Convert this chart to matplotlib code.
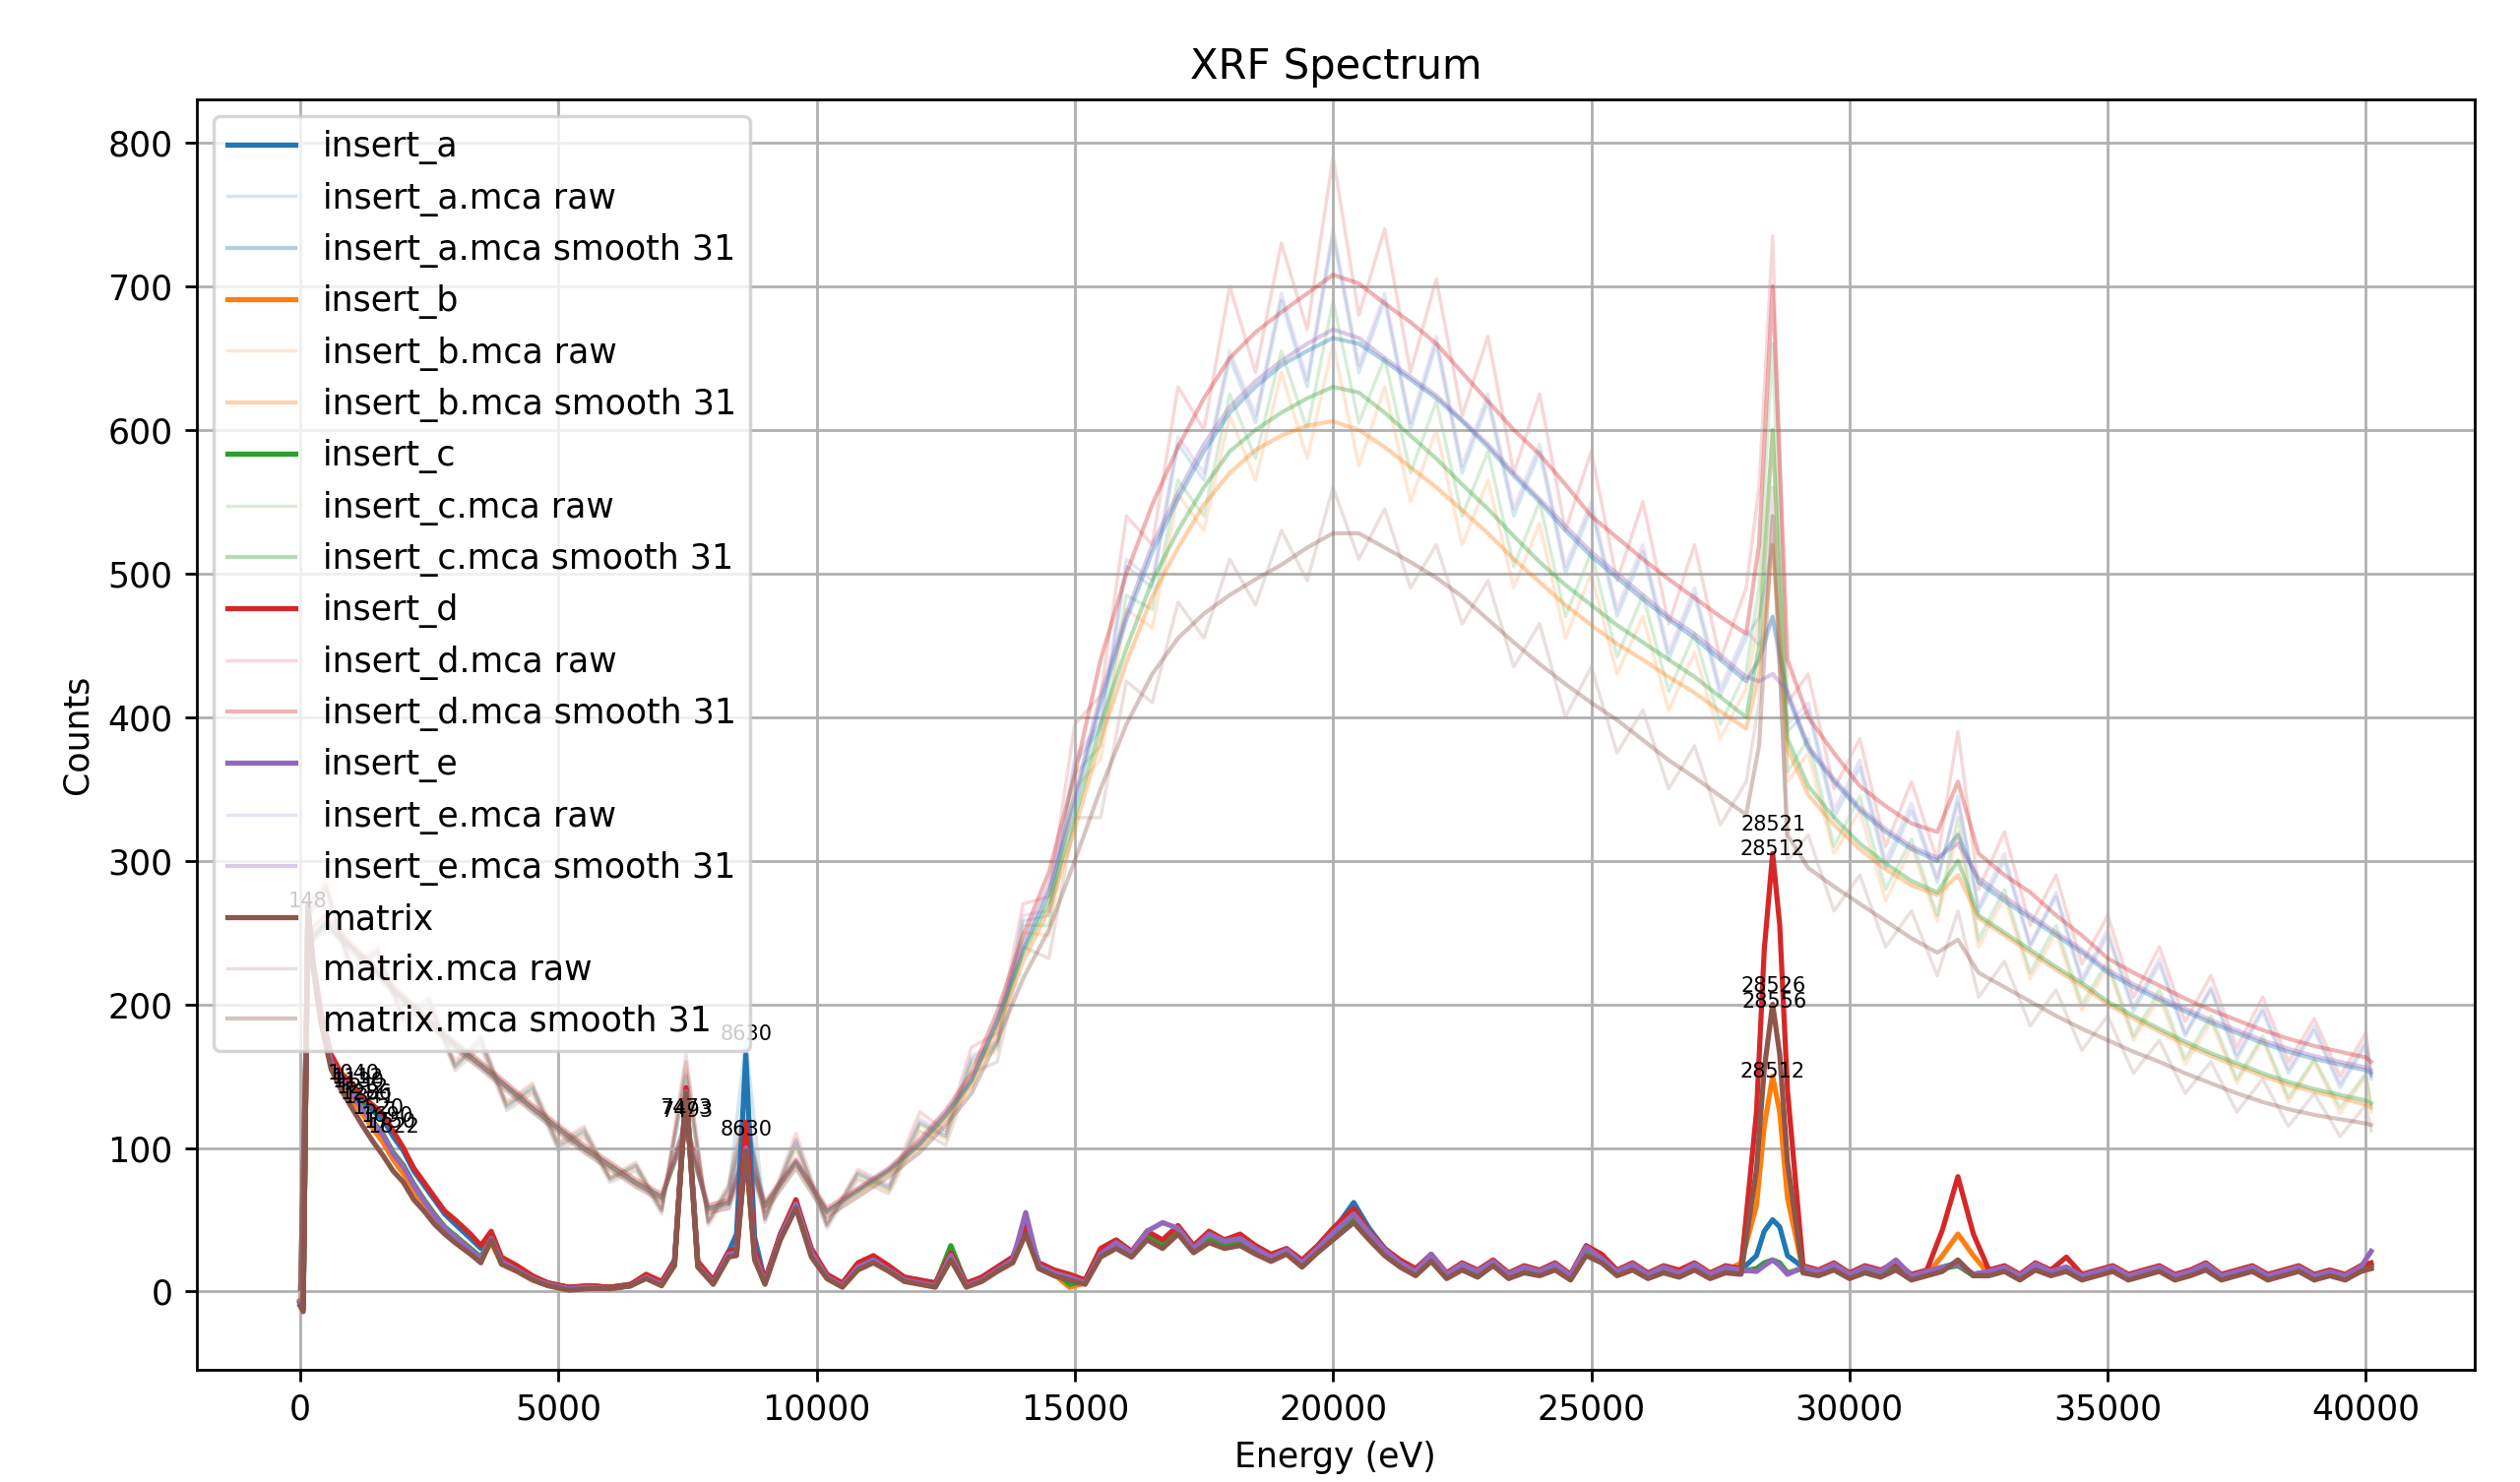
import matplotlib
matplotlib.use("Agg")
import matplotlib.pyplot as plt

# ---------------------- DATA ----------------------
samples = ["insert_a", "insert_b", "insert_c", "insert_d", "insert_e", "matrix"]
colors = ["#1f77b4", "#ff7f0e", "#2ca02c", "#d62728", "#9467bd", "#8c564b"]

# energy grid of the peak-fitted (main) traces, eV
energy_main = [
    0, 60, 150, 250, 400, 600, 800, 1000, 1200, 1400,
    1600, 1800, 2000, 2200, 2400, 2600, 2800, 3000, 3300, 3500,
    3700, 3900, 4200, 4500, 4800, 5200, 5600, 6000, 6400, 6700,
    7000, 7250, 7473, 7700, 8000, 8300, 8450, 8630, 8800, 9000,
    9300, 9600, 9900, 10200, 10500, 10800, 11100, 11400, 11700, 12000,
    12300, 12600, 12900, 13200, 13500, 13800, 14050, 14300, 14600, 14900,
    15200, 15500, 15800, 16100, 16400, 16700, 17000, 17300, 17600, 17900,
    18200, 18500, 18800, 19100, 19400, 19700, 20000, 20400, 20700, 21000,
    21300, 21600, 21900, 22200, 22500, 22800, 23100, 23400, 23700, 24000,
    24300, 24600, 24900, 25200, 25500, 25800, 26100, 26400, 26700, 27000,
    27300, 27600, 27900, 28200, 28350, 28512, 28650, 28800, 29100, 29400,
    29700, 30000, 30300, 30600, 30900, 31200, 31500, 31800, 32100, 32400,
    32700, 33000, 33300, 33600, 33900, 34200, 34500, 34800, 35100, 35400,
    35700, 36000, 36300, 36600, 36900, 37200, 37500, 37800, 38100, 38400,
    38700, 39000, 39300, 39600, 39900, 40100,
]

insert_a = [
    -8, -12, 265, 228, 192, 162, 150, 142, 133, 126,
    120, 108, 98, 84, 74, 64, 54, 47, 37, 30,
    40, 22, 16, 10, 6, 3, 4, 3, 5, 11,
    6, 22, 140, 20, 8, 28, 40, 165, 38, 7,
    40, 62, 28, 12, 5, 19, 24, 17, 10, 8,
    6, 26, 5, 10, 17, 24, 48, 20, 15, 11,
    8, 28, 34, 27, 40, 34, 44, 30, 38, 34,
    36, 30, 24, 29, 20, 31, 42, 62, 44, 30,
    20, 15, 24, 12, 19, 14, 21, 12, 17, 14,
    19, 11, 29, 24, 14, 19, 12, 17, 14, 19,
    12, 17, 15, 25, 42, 50, 45, 25, 17, 14,
    19, 12, 17, 14, 19, 11, 14, 17, 20, 12,
    14, 17, 11, 19, 14, 17, 11, 14, 17, 11,
    14, 17, 11, 14, 19, 11, 14, 17, 11, 14,
    17, 11, 14, 11, 17, 19,
]
insert_b = [
    -6, -10, 262, 226, 190, 158, 144, 134, 124, 114,
    104, 92, 82, 70, 60, 50, 42, 36, 28, 22,
    34, 20, 15, 9, 5, 2, 3, 2, 4, 10,
    5, 19, 138, 18, 6, 26, 26, 100, 24, 6,
    38, 60, 26, 10, 4, 17, 22, 15, 8, 6,
    4, 24, 4, 8, 15, 22, 42, 17, 12, 3,
    6, 26, 32, 25, 38, 32, 42, 28, 36, 32,
    34, 28, 22, 27, 18, 28, 38, 50, 38, 26,
    18, 12, 22, 10, 16, 11, 19, 10, 14, 12,
    16, 9, 26, 21, 12, 16, 10, 14, 11, 16,
    10, 14, 20, 60, 115, 150, 125, 65, 15, 12,
    16, 10, 14, 11, 16, 9, 12, 25, 40, 25,
    12, 15, 9, 16, 12, 15, 9, 12, 15, 9,
    12, 15, 9, 12, 16, 9, 12, 15, 9, 12,
    15, 9, 12, 9, 14, 16,
]
insert_c = [
    -7, -11, 266, 229, 194, 163, 149, 139, 128, 119,
    110, 97, 88, 75, 64, 54, 45, 39, 30, 24,
    38, 22, 16, 10, 6, 2, 4, 3, 4, 11,
    6, 20, 140, 19, 7, 27, 28, 102, 26, 7,
    39, 62, 28, 11, 5, 18, 23, 16, 9, 7,
    5, 32, 5, 9, 16, 23, 45, 19, 14, 5,
    7, 27, 33, 26, 39, 33, 43, 29, 37, 33,
    35, 29, 23, 28, 19, 29, 40, 52, 40, 28,
    19, 13, 25, 11, 18, 13, 20, 11, 16, 13,
    18, 10, 30, 22, 13, 18, 11, 16, 12, 18,
    11, 16, 14, 16, 20, 22, 20, 13, 16, 13,
    18, 11, 16, 13, 18, 10, 13, 16, 18, 11,
    13, 16, 10, 18, 13, 16, 10, 13, 16, 10,
    13, 16, 10, 13, 18, 10, 13, 16, 10, 13,
    16, 10, 13, 10, 16, 18,
]
insert_d = [
    -8, -12, 268, 230, 195, 165, 152, 145, 136, 130,
    124, 112, 100, 86, 76, 66, 56, 50, 40, 32,
    42, 24, 18, 11, 6, 3, 4, 3, 5, 12,
    7, 21, 142, 21, 8, 28, 30, 118, 30, 8,
    40, 64, 30, 12, 6, 20, 25, 18, 10, 8,
    6, 27, 6, 10, 17, 24, 46, 20, 15, 12,
    8, 30, 36, 28, 42, 36, 46, 32, 42, 36,
    40, 32, 26, 30, 22, 32, 44, 58, 42, 30,
    22, 16, 26, 13, 20, 15, 22, 13, 18, 15,
    20, 12, 32, 26, 15, 20, 13, 18, 15, 20,
    13, 18, 16, 125, 238, 305, 255, 140, 18, 15,
    20, 13, 18, 15, 20, 12, 15, 43, 80, 40,
    15, 18, 12, 20, 15, 24, 12, 15, 18, 12,
    15, 18, 12, 15, 20, 12, 15, 18, 12, 15,
    18, 12, 15, 12, 18, 20,
]
insert_e = [
    -7, -11, 264, 227, 191, 160, 148, 138, 127, 118,
    109, 96, 87, 74, 63, 53, 44, 38, 29, 23,
    37, 21, 15, 9, 5, 2, 3, 2, 4, 10,
    5, 19, 139, 18, 6, 26, 27, 100, 25, 6,
    38, 61, 27, 10, 4, 17, 22, 15, 8, 6,
    4, 25, 4, 8, 15, 22, 55, 18, 13, 10,
    6, 26, 34, 27, 42, 48, 44, 30, 40, 35,
    37, 30, 24, 29, 20, 30, 41, 54, 41, 29,
    20, 14, 26, 12, 19, 14, 21, 12, 17, 14,
    19, 11, 31, 23, 14, 19, 12, 17, 13, 19,
    12, 17, 15, 14, 18, 22, 18, 12, 17, 14,
    19, 12, 17, 14, 22, 11, 14, 17, 19, 12,
    14, 17, 11, 19, 14, 17, 11, 14, 17, 11,
    14, 17, 11, 14, 19, 11, 14, 17, 11, 14,
    17, 11, 14, 11, 17, 28,
]
matrix = [
    -10, -14, 270, 226, 188, 155, 140, 128, 116, 105,
    95, 84, 76, 64, 56, 47, 40, 34, 26, 20,
    36, 19, 14, 8, 4, 1, 2, 2, 4, 9,
    4, 18, 138, 17, 5, 24, 25, 98, 22, 5,
    36, 58, 24, 9, 3, 15, 20, 14, 7, 5,
    3, 22, 3, 7, 14, 20, 40, 16, 11, 8,
    5, 24, 30, 24, 36, 30, 40, 27, 34, 30,
    32, 26, 21, 26, 17, 27, 36, 48, 36, 25,
    17, 11, 21, 9, 15, 10, 18, 9, 13, 11,
    15, 8, 25, 20, 11, 15, 9, 13, 10, 15,
    9, 13, 12, 85, 155, 200, 165, 90, 13, 11,
    15, 9, 13, 10, 15, 8, 11, 14, 22, 11,
    11, 14, 8, 15, 11, 14, 8, 11, 14, 8,
    11, 14, 8, 11, 15, 8, 11, 14, 8, 11,
    14, 8, 11, 8, 14, 16,
]

# energy grid of the raw / smoothed .mca spectra, eV
energy_mca = [
    0, 150, 500, 1000, 1500, 2000, 2500, 3000, 3500, 4000,
    4500, 5000, 5500, 6000, 6500, 7000, 7473, 7900, 8300, 8630,
    9000, 9600, 10200, 10800, 11400, 12000, 12500, 13000, 13500, 14000,
    14500, 15000, 15500, 16000, 16500, 17000, 17500, 18000, 18500, 19000,
    19500, 20000, 20500, 21000, 21500, 22000, 22500, 23000, 23500, 24000,
    24500, 25000, 25500, 26000, 26500, 27000, 27500, 28000, 28250, 28512,
    28800, 29200, 29700, 30200, 30700, 31200, 31700, 32100, 32500, 33000,
    33500, 34000, 34500, 35000, 35500, 36000, 36500, 37000, 37500, 38000,
    38500, 39000, 39500, 40000, 40100,
]

insert_a_raw = [
    -6, 262, 280, 222, 238, 188, 202, 156, 175, 128,
    142, 100, 112, 78, 88, 56, 150, 48, 72, 175,
    50, 105, 46, 82, 72, 118, 108, 162, 172, 258,
    262, 368, 392, 505, 490, 590, 565, 650, 605, 690,
    630, 735, 640, 690, 600, 660, 570, 620, 540, 585,
    500, 545, 470, 515, 440, 485, 415, 455, 470, 520,
    390, 405, 330, 365, 295, 335, 285, 345, 265, 300,
    240, 275, 215, 248, 195, 228, 178, 210, 162, 195,
    152, 182, 142, 172, 148,
]
insert_a_smooth = [
    2, 245, 258, 240, 222, 204, 188, 172, 158, 143,
    128, 114, 100, 88, 76, 66, 112, 58, 62, 118,
    60, 90, 56, 70, 84, 102, 122, 146, 188, 238,
    278, 340, 410, 468, 515, 552, 585, 612, 630, 645,
    655, 664, 660, 648, 635, 622, 606, 588, 568, 550,
    530, 512, 497, 482, 468, 455, 440, 425, 440, 470,
    415, 378, 355, 335, 320, 308, 300, 318, 285, 272,
    260, 248, 236, 222, 212, 203, 195, 187, 180, 173,
    167, 162, 158, 154, 152,
]
insert_b_raw = [
    -4, 265, 282, 224, 236, 190, 200, 158, 172, 130,
    140, 102, 110, 79, 86, 57, 155, 49, 70, 130,
    51, 102, 47, 80, 70, 116, 106, 158, 168, 250,
    248, 350, 370, 475, 462, 555, 530, 610, 565, 640,
    580, 660, 575, 630, 550, 600, 520, 565, 490, 535,
    455, 500, 430, 470, 405, 445, 385, 420, 470, 600,
    355, 375, 305, 335, 272, 310, 258, 320, 240, 275,
    218, 250, 196, 226, 175, 205, 158, 188, 145, 175,
    132, 160, 124, 150, 125,
]
insert_b_smooth = [
    2, 243, 256, 239, 221, 203, 187, 171, 157, 142,
    127, 113, 99, 87, 75, 65, 112, 57, 61, 96,
    59, 89, 55, 69, 83, 101, 120, 143, 183, 230,
    266, 322, 385, 438, 484, 518, 548, 570, 586, 596,
    603, 606, 600, 588, 574, 560, 544, 528, 510, 494,
    478, 464, 451, 440, 428, 417, 404, 392, 430, 520,
    378, 346, 325, 308, 294, 283, 276, 290, 260, 248,
    236, 224, 213, 200, 190, 181, 172, 164, 157, 150,
    144, 139, 135, 130, 128,
]
insert_c_raw = [
    -5, 268, 283, 226, 238, 190, 203, 157, 176, 130,
    143, 103, 113, 79, 88, 57, 150, 49, 73, 128,
    51, 104, 47, 82, 71, 117, 108, 160, 170, 255,
    255, 360, 380, 485, 475, 565, 540, 625, 580, 655,
    600, 690, 605, 650, 570, 620, 540, 585, 505, 550,
    470, 515, 442, 485, 418, 458, 395, 432, 490, 660,
    362, 385, 310, 345, 280, 315, 262, 330, 245, 280,
    222, 255, 200, 230, 178, 210, 162, 192, 148, 178,
    135, 162, 128, 152, 130,
]
insert_c_smooth = [
    2, 244, 257, 240, 222, 204, 188, 172, 158, 143,
    128, 114, 100, 88, 76, 66, 110, 58, 62, 96,
    60, 90, 56, 70, 84, 103, 123, 147, 188, 236,
    272, 330, 395, 448, 495, 530, 560, 585, 600, 612,
    622, 630, 626, 612, 596, 580, 562, 545, 526, 508,
    492, 478, 464, 452, 440, 428, 414, 400, 450, 600,
    385, 352, 330, 312, 298, 286, 278, 300, 262, 250,
    238, 226, 215, 202, 192, 183, 174, 166, 159, 152,
    146, 141, 137, 133, 131,
]
insert_d_raw = [
    -5, 270, 285, 228, 240, 192, 205, 160, 178, 132,
    145, 104, 115, 80, 90, 58, 160, 50, 75, 135,
    52, 110, 48, 85, 74, 125, 112, 170, 180, 270,
    275, 395, 415, 540, 520, 630, 600, 700, 640, 730,
    670, 790, 680, 740, 640, 705, 610, 665, 570, 625,
    530, 585, 495, 550, 465, 520, 440, 490, 560, 735,
    410, 430, 350, 385, 310, 355, 300, 390, 280, 320,
    255, 290, 228, 262, 205, 240, 188, 220, 170, 205,
    160, 190, 150, 180, 150,
]
insert_d_smooth = [
    2, 250, 262, 242, 224, 206, 190, 174, 160, 145,
    130, 116, 102, 90, 78, 68, 118, 60, 64, 100,
    62, 92, 58, 72, 86, 106, 126, 152, 195, 248,
    292, 360, 440, 500, 548, 588, 622, 650, 668, 682,
    695, 708, 702, 688, 675, 660, 640, 620, 600, 583,
    562, 540, 525, 510, 496, 483, 470, 458, 520, 700,
    440, 400, 375, 352, 338, 326, 320, 355, 305, 290,
    278, 262, 248, 232, 222, 213, 204, 196, 189, 182,
    176, 171, 167, 163, 160,
]
insert_e_raw = [
    -6, 264, 281, 223, 237, 189, 201, 157, 174, 129,
    141, 101, 111, 78, 87, 56, 152, 48, 71, 122,
    50, 106, 46, 83, 73, 120, 110, 164, 174, 262,
    265, 372, 396, 510, 495, 595, 570, 655, 610, 695,
    635, 740, 645, 695, 605, 665, 575, 625, 545, 590,
    505, 550, 475, 520, 445, 490, 420, 460, 450, 470,
    395, 410, 335, 370, 300, 340, 288, 340, 268, 305,
    242, 278, 218, 252, 198, 232, 180, 212, 165, 198,
    155, 185, 145, 175, 150,
]
insert_e_smooth = [
    2, 242, 256, 239, 221, 203, 187, 171, 157, 142,
    127, 113, 99, 87, 75, 65, 114, 57, 61, 98,
    59, 91, 55, 71, 85, 104, 124, 148, 190, 242,
    283, 345, 415, 472, 520, 556, 590, 616, 634, 648,
    660, 670, 664, 650, 637, 624, 607, 590, 570, 552,
    533, 515, 500, 485, 470, 458, 443, 428, 425, 430,
    418, 380, 357, 337, 322, 310, 302, 312, 288, 275,
    262, 250, 238, 224, 214, 205, 197, 189, 182, 175,
    169, 164, 160, 156, 154,
]
matrix_raw = [
    -8, 260, 278, 220, 235, 186, 198, 154, 170, 126,
    138, 98, 108, 76, 84, 54, 165, 46, 68, 120,
    48, 100, 44, 78, 68, 112, 102, 152, 160, 240,
    232, 330, 330, 425, 410, 480, 455, 510, 478, 530,
    495, 560, 510, 545, 490, 520, 465, 495, 435, 465,
    400, 435, 375, 405, 350, 380, 325, 355, 410, 560,
    300, 318, 265, 290, 240, 265, 220, 265, 205, 230,
    185, 210, 168, 192, 152, 175, 138, 160, 125, 148,
    115, 138, 108, 130, 112,
]
matrix_smooth = [
    2, 240, 254, 237, 219, 201, 185, 169, 155, 140,
    125, 111, 97, 85, 73, 63, 120, 55, 58, 92,
    56, 86, 52, 66, 80, 97, 116, 138, 175, 218,
    252, 300, 350, 395, 430, 455, 472, 485, 496, 506,
    518, 528, 528, 518, 508, 497, 484, 468, 452, 437,
    423, 410, 398, 384, 370, 358, 345, 332, 380, 540,
    318, 295, 282, 270, 258, 246, 236, 245, 222, 212,
    202, 192, 183, 175, 167, 160, 152, 145, 138, 132,
    127, 123, 120, 117, 116,
]

main_traces = [insert_a, insert_b, insert_c, insert_d, insert_e, matrix]
raw_traces = [insert_a_raw, insert_b_raw, insert_c_raw, insert_d_raw, insert_e_raw, matrix_raw]
smooth_traces = [insert_a_smooth, insert_b_smooth, insert_c_smooth,
                 insert_d_smooth, insert_e_smooth, matrix_smooth]

# peak labels (text, energy, counts)
peak_text = ["148", "1040", "1112", "1130", "1212", "1286", "1341", "1520", "1690", "1750",
             "1822", "7473", "7493", "8630", "8630", "28521", "28512", "28526", "28556", "28512"]
peak_energy = [148, 1040, 1112, 1130, 1212, 1286, 1341, 1520, 1690, 1750,
               1822, 7473, 7493, 8630, 8630, 28521, 28512, 28526, 28556, 28512]
peak_counts = [272, 152, 149, 146, 142, 138, 135, 128, 122, 118,
               115, 128, 126, 179, 113, 325, 308, 213, 202, 153]

# ---------------------- PLOT ----------------------
fig, ax = plt.subplots(figsize=(10.24, 6.024), dpi=250)
fig.subplots_adjust(left=0.078, right=0.982, bottom=0.076, top=0.933)

for name, col, main, raw, smooth in zip(samples, colors, main_traces, raw_traces, smooth_traces):
    ax.plot(energy_main, main, color=col, lw=1.5, label=name, zorder=3)
    ax.plot(energy_mca, raw, color=col, lw=1.0, alpha=0.18, label=name + ".mca raw", zorder=1)
    ax.plot(energy_mca, smooth, color=col, lw=1.2, alpha=0.35, label=name + ".mca smooth 31", zorder=2)

for txt, e, c in zip(peak_text, peak_energy, peak_counts):
    ax.text(e, c, txt, fontsize=6, ha="center", va="center", zorder=4)

ax.set_title("XRF Spectrum")
ax.set_xlabel("Energy (eV)")
ax.set_ylabel("Counts")
ax.set_xticks(range(0, 40001, 5000))
ax.set_yticks(range(0, 801, 100))
ax.grid(True)
ax.legend(loc="upper left")

fig.savefig("out.png", dpi=250)
